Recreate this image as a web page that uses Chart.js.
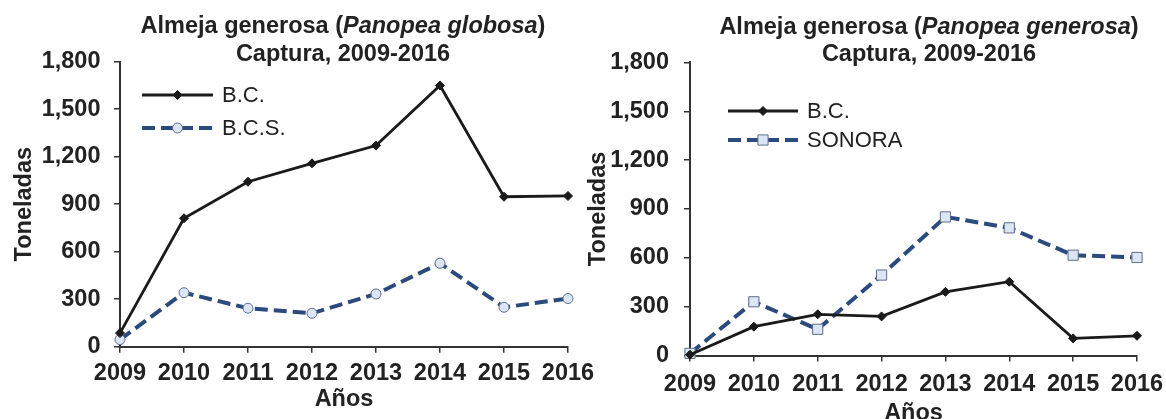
<!DOCTYPE html>
<html>
<head>
<meta charset="utf-8">
<script src="https://cdn.jsdelivr.net/npm/chart.js@4"></script>
<style>
    html, body { margin: 0; padding: 0; background: #fff; }
    #lienzo { position: relative; width: 1166px; height: 419px; overflow: hidden; }
    #lienzo canvas { position: absolute; left: 0; top: 0; }
</style>
</head>
<body>
<div id="lienzo">
    <canvas id="chartGlobosa" width="1166" height="419"></canvas>
    <canvas id="chartGenerosa" width="1166" height="419"></canvas>
</div>
<script>
// ===== DATOS =====
const anios = ['2009', '2010', '2011', '2012', '2013', '2014', '2015', '2016'];

// Panopea globosa (toneladas)
const globosaBC = [86, 811, 1042, 1158, 1270, 1650, 947, 952];
const globosaBCS = [45, 341, 243, 211, 333, 527, 249, 304];

// Panopea generosa (toneladas)
const generosaBC = [5, 177, 253, 240, 391, 453, 105, 121];
const generosaSonora = [13, 330, 161, 494, 851, 784, 616, 602];

const TONELADAS_MIN = 0;
const TONELADAS_MAX = 1800;
const TONELADAS_PASO = 300;

// ===== ESTILOS =====
const FUENTE = "'Liberation Sans', Arial, sans-serif";
const TEXTO = '#222';
const EJE = '#333';
const AZUL = '#2b4a7e';
const RELLENO = '#dbe5f3';

Chart.defaults.font.family = FUENTE;
Chart.defaults.color = TEXTO;

// Título en dos líneas con parte en cursiva
const tituloPlugin = {
    id: 'tituloMixto',
    afterDraw(chart, args, opts) {
        const ctx = chart.ctx;
        ctx.save();
        ctx.fillStyle = TEXTO;
        ctx.textBaseline = 'alphabetic';
        ctx.textAlign = 'left';
        opts.lineas.forEach((segs, i) => {
            const anchos = segs.map(s => {
                ctx.font = (s.italica ? 'italic ' : '') + 'bold ' + opts.size + 'px ' + FUENTE;
                return ctx.measureText(s.texto).width;
            });
            let x = opts.x - anchos.reduce((a, b) => a + b, 0) / 2;
            segs.forEach((s, j) => {
                ctx.font = (s.italica ? 'italic ' : '') + 'bold ' + opts.size + 'px ' + FUENTE;
                ctx.fillText(s.texto, x, opts.y[i]);
                x += anchos[j];
            });
        });
        ctx.restore();
    }
};

// Leyenda con línea y marcador
const leyendaPlugin = {
    id: 'leyendaLinea',
    afterDraw(chart, args, opts) {
        const ctx = chart.ctx;
        chart.data.datasets.forEach((ds, i) => {
            const y = opts.y[i];
            ctx.save();
            ctx.strokeStyle = ds.borderColor;
            ctx.lineWidth = ds.borderWidth;
            ctx.setLineDash(ds.borderDash || []);
            ctx.beginPath();
            ctx.moveTo(opts.x1, y);
            ctx.lineTo(opts.x2, y);
            ctx.stroke();
            ctx.setLineDash([]);
            ctx.fillStyle = ds.pointBackgroundColor;
            ctx.strokeStyle = ds.pointBorderColor;
            ctx.lineWidth = ds.pointBorderWidth;
            Chart.helpers.drawPoint(ctx, {
                pointStyle: ds.pointStyle,
                radius: ds.pointRadius,
                rotation: 0,
                borderWidth: ds.pointBorderWidth
            }, (opts.x1 + opts.x2) / 2, y);
            ctx.fillStyle = TEXTO;
            ctx.font = '22px ' + FUENTE;
            ctx.textBaseline = 'middle';
            ctx.textAlign = 'left';
            ctx.fillText(ds.label, opts.xTexto, y + 1);
            ctx.restore();
        });
    }
};

function serieBC(datos) {
    return {
        label: 'B.C.',
        data: datos,
        borderColor: '#1a1a1a',
        borderWidth: 2.8,
        pointStyle: 'rectRot',
        pointRadius: 4.5,
        pointBackgroundColor: '#1a1a1a',
        pointBorderColor: '#1a1a1a',
        pointBorderWidth: 1,
        tension: 0,
        clip: false
    };
}

function serieDiscontinua(etiqueta, datos, estilo, radio) {
    return {
        label: etiqueta,
        data: datos,
        borderColor: AZUL,
        borderWidth: 4,
        borderDash: [13, 6],
        pointStyle: estilo,
        pointRadius: radio,
        pointBackgroundColor: RELLENO,
        pointBorderColor: '#5d6e8c',
        pointBorderWidth: 1,
        tension: 0,
        clip: false
    };
}

function crearEscalas(c) {
    const fuenteEje = { size: 23.5, weight: 'bold' };
    return {
        x: {
            type: 'category',
            offset: false,
            grid: { display: true, drawOnChartArea: false, drawTicks: true, tickLength: 6, color: EJE, lineWidth: 1.5, offset: false },
            border: { display: true, color: EJE, width: 2 },
            ticks: { font: fuenteEje, padding: c.padX, maxRotation: 0, autoSkip: false },
            title: { display: true, text: 'Años', font: fuenteEje, padding: { top: 0, bottom: c.padTituloX } },
            afterFit(s) { s.height = c.altoX; s.paddingLeft = 0; s.paddingRight = 0; }
        },
        y: {
            min: TONELADAS_MIN,
            max: TONELADAS_MAX,
            grid: { display: true, drawOnChartArea: false, drawTicks: true, tickLength: 6, color: EJE, lineWidth: 1.5 },
            border: { display: true, color: EJE, width: 2 },
            ticks: {
                stepSize: TONELADAS_PASO,
                font: fuenteEje,
                padding: c.padY,
                callback: v => v.toLocaleString('en-US')
            },
            title: { display: true, text: 'Toneladas', font: fuenteEje, padding: { top: c.padTituloY, bottom: 0 } },
            afterFit(s) { s.width = c.anchoY; s.paddingTop = 0; s.paddingBottom = 0; }
        }
    };
}

// ===== GRÁFICO IZQUIERDO: Panopea globosa =====
new Chart(document.getElementById('chartGlobosa'), {
    type: 'line',
    data: {
        labels: anios,
        datasets: [
            serieBC(globosaBC),
            serieDiscontinua('B.C.S.', globosaBCS, 'circle', 5)
        ]
    },
    plugins: [tituloPlugin, leyendaPlugin],
    options: {
        responsive: false,
        animation: false,
        events: [],
        layout: { padding: { left: 0, top: 61.7, right: 1166 - 568, bottom: 0 } },
        scales: crearEscalas({ anchoY: 120, altoX: 419 - 346.7, padX: 6.7, padY: 13.5, padTituloX: 5, padTituloY: 10 }),
        plugins: {
            legend: { display: false },
            tooltip: { enabled: false },
            tituloMixto: {
                x: 343, y: [32.5, 60.5], size: 23.5,
                lineas: [
                    [{ texto: 'Almeja generosa (' }, { texto: 'Panopea globosa', italica: true }, { texto: ')' }],
                    [{ texto: 'Captura, 2009-2016' }]
                ]
            },
            leyendaLinea: { x1: 142, x2: 213, xTexto: 222, y: [95, 128] }
        }
    }
});

// ===== GRÁFICO DERECHO: Panopea generosa =====
new Chart(document.getElementById('chartGenerosa'), {
    type: 'line',
    data: {
        labels: anios,
        datasets: [
            serieBC(generosaBC),
            serieDiscontinua('SONORA', generosaSonora, 'rect', 7.2)
        ]
    },
    plugins: [tituloPlugin, leyendaPlugin],
    options: {
        responsive: false,
        animation: false,
        events: [],
        layout: { padding: { left: 584, top: 62.4, right: 1166 - 1137, bottom: 0 } },
        scales: crearEscalas({ anchoY: 106, altoX: 419 - 355.5, padX: 9.4, padY: 15, padTituloX: -8.6, padTituloY: 0 }),
        plugins: {
            legend: { display: false },
            tooltip: { enabled: false },
            tituloMixto: {
                x: 929, y: [33.5, 60.5], size: 23.5,
                lineas: [
                    [{ texto: 'Almeja generosa (' }, { texto: 'Panopea generosa', italica: true }, { texto: ')' }],
                    [{ texto: 'Captura, 2009-2016' }]
                ]
            },
            leyendaLinea: { x1: 728, x2: 798, xTexto: 807, y: [111, 140] }
        }
    }
});
</script>
</body>
</html>
